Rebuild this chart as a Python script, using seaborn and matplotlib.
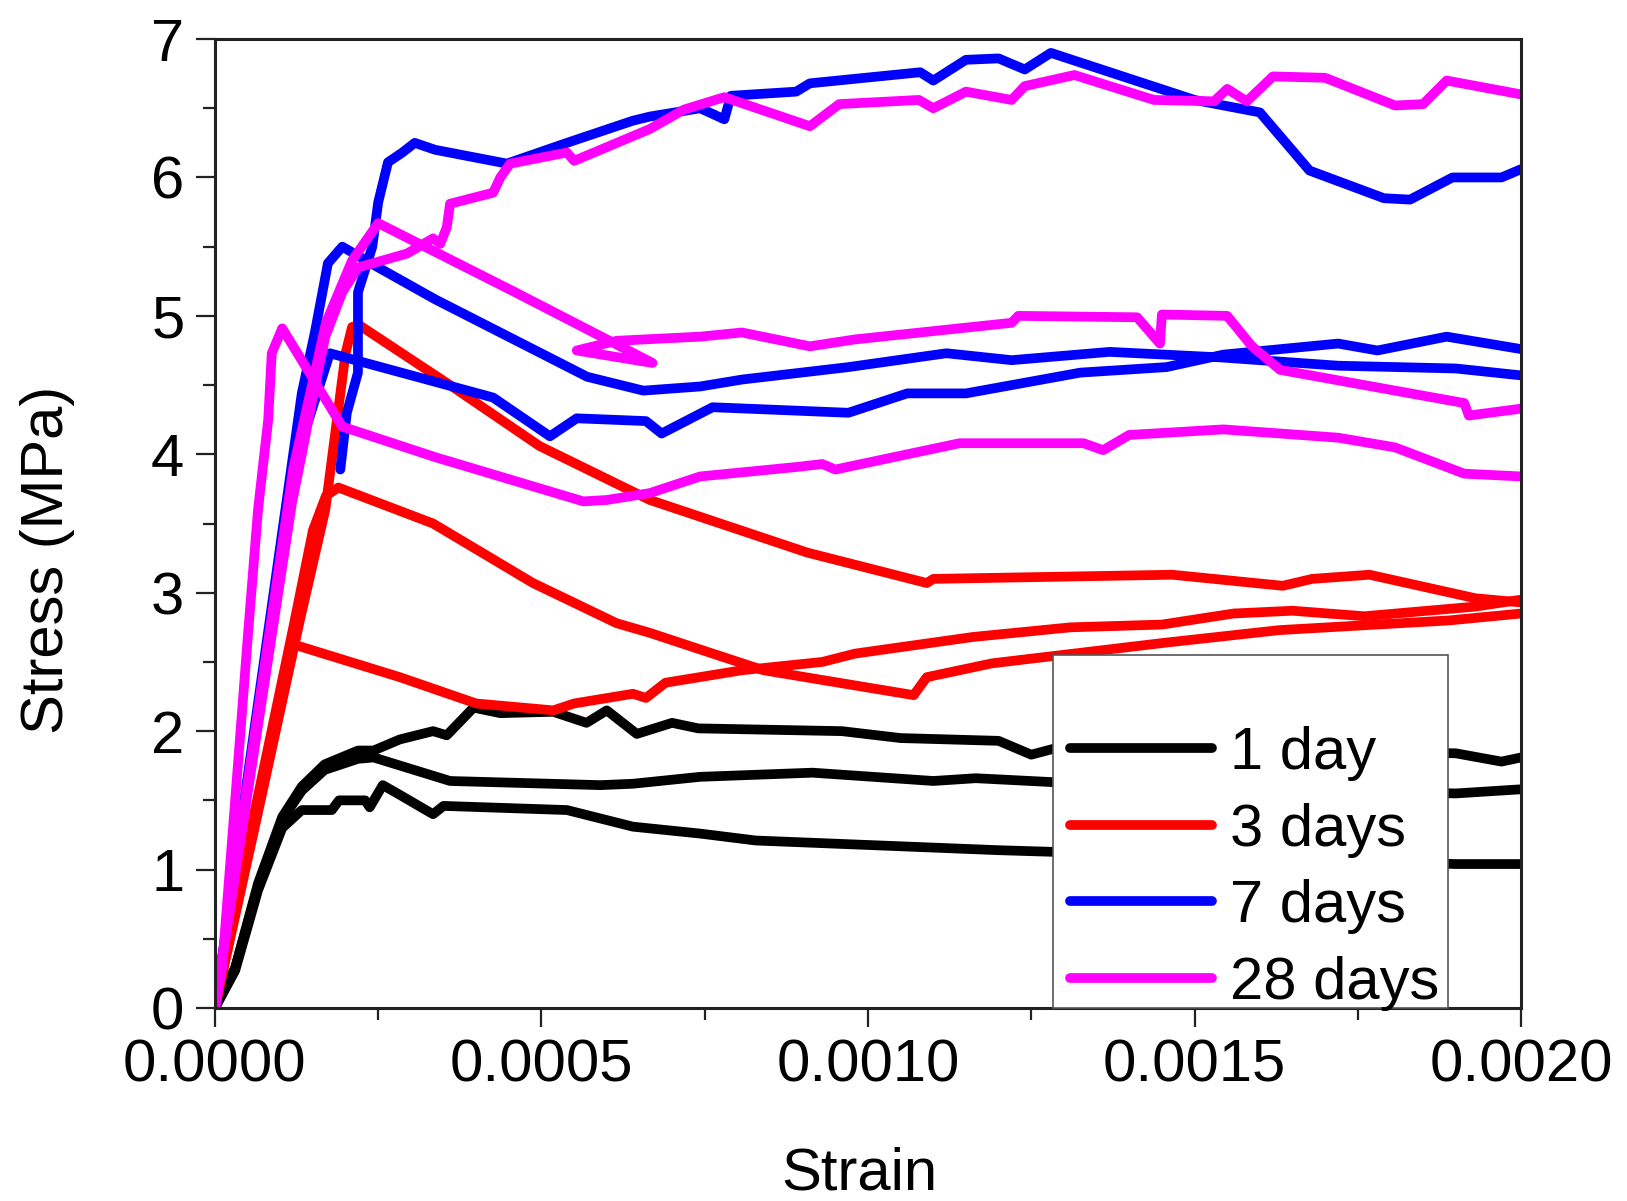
import numpy as np
import pandas as pd
import matplotlib
matplotlib.use("Agg")
import matplotlib.pyplot as plt
from matplotlib.patches import Rectangle
from matplotlib.lines import Line2D
import seaborn as sns

# ---------------- data ----------------
ages = ["1 day", "3 days", "7 days", "28 days"]
colors = ["#000000", "#ff0000", "#0000ff", "#ff00ff"]

# 1 day
d1_a_x = [0, 0.000031, 0.000066, 0.000103, 0.000133, 0.000168, 0.000219, 0.000243, 0.000283, 0.000334,
          0.000355, 0.000396, 0.000437, 0.000518, 0.000569, 0.0006, 0.000646, 0.0007, 0.00074, 0.00096,
          0.00105, 0.0012, 0.00125, 0.00129, 0.0019, 0.00197, 0.002]
d1_a_y = [0, 0.29, 0.9, 1.38, 1.6, 1.76, 1.86, 1.86, 1.94, 2.0,
          1.97, 2.17, 2.13, 2.14, 2.06, 2.15, 1.98, 2.06, 2.02, 2.0,
          1.95, 1.93, 1.83, 1.88, 1.84, 1.78, 1.81]
d1_b_x = [0, 0.000031, 0.000066, 0.000103, 0.000133, 0.000168, 0.000219, 0.000243, 0.00036, 0.00059,
          0.00064, 0.000743, 0.000915, 0.0011, 0.001165, 0.00129, 0.0019, 0.002]
d1_b_y = [0, 0.29, 0.88, 1.36, 1.57, 1.72, 1.8, 1.81, 1.64, 1.61,
          1.62, 1.67, 1.70, 1.64, 1.66, 1.63, 1.55, 1.58]
d1_c_x = [0, 0.000031, 0.000066, 0.000103, 0.000133, 0.000179, 0.00019, 0.00023, 0.000237, 0.000257,
          0.000283, 0.000334, 0.00035, 0.000539, 0.00064, 0.000743, 0.000828, 0.0012, 0.0019, 0.002]
d1_c_y = [0, 0.27, 0.85, 1.3, 1.43, 1.43, 1.5, 1.5, 1.45, 1.61,
          1.54, 1.40, 1.46, 1.43, 1.31, 1.26, 1.21, 1.14, 1.04, 1.04]

# 3 days
d3_a_x = [0, 0.00007, 0.00013, 0.000169, 0.00018, 0.0002, 0.00021, 0.000222, 0.00036, 0.000497,
          0.000666, 0.000907, 0.00109, 0.0011, 0.001466, 0.001635, 0.00168, 0.001768, 0.00193, 0.002]
d3_a_y = [0, 1.5, 2.8, 3.6, 4.0, 4.73, 4.92, 4.93, 4.5, 4.06,
          3.67, 3.29, 3.07, 3.1, 3.13, 3.05, 3.1, 3.13, 2.96, 2.93]
d3_b_x = [0, 0.00006, 0.00012, 0.00015, 0.00017, 0.000189, 0.000334, 0.000487, 0.000615, 0.000666,
          0.000743, 0.00084, 0.00107, 0.00109, 0.00119, 0.001457, 0.00163, 0.00189, 0.002]
d3_b_y = [0, 1.4, 2.75, 3.45, 3.7, 3.76, 3.5, 3.07, 2.78, 2.71,
          2.59, 2.44, 2.26, 2.39, 2.49, 2.64, 2.73, 2.8, 2.85]
d3_c_x = [0, 0.0000665, 0.000118, 0.000283, 0.0004, 0.000518, 0.00055, 0.00064, 0.00066, 0.00069,
          0.000807, 0.00093, 0.00098, 0.00116, 0.00131, 0.00145, 0.00156, 0.00165, 0.00176, 0.00193, 0.002]
d3_c_y = [0, 1.5, 2.63, 2.39, 2.2, 2.15, 2.2, 2.27, 2.24, 2.35,
          2.44, 2.5, 2.56, 2.68, 2.75, 2.77, 2.85, 2.87, 2.83, 2.9, 2.95]

# 7 days
d7_a_x = [0.000192, 0.000202, 0.000219, 0.000219, 0.000241, 0.00025, 0.000265, 0.000287, 0.000306, 0.000337,
          0.000447, 0.000539, 0.00064, 0.000666, 0.000743, 0.00078, 0.00079, 0.00089, 0.000911, 0.00108,
          0.0011, 0.00115, 0.0012, 0.00124, 0.00128, 0.0015, 0.0016, 0.001676, 0.00179, 0.00183,
          0.001895, 0.00197, 0.002]
d7_a_y = [3.89, 4.30, 4.59, 5.17, 5.50, 5.82, 6.11, 6.18, 6.25, 6.20,
          6.1, 6.25, 6.41, 6.44, 6.5, 6.42, 6.59, 6.62, 6.68, 6.76,
          6.7, 6.85, 6.86, 6.78, 6.9, 6.56, 6.47, 6.05, 5.85, 5.84,
          6.0, 6.0, 6.06]
d7_b_x = [0, 0.00011, 0.000133, 0.000153, 0.000173, 0.000195, 0.00025, 0.000337, 0.00057, 0.000656,
          0.000743, 0.000807, 0.00097, 0.00112, 0.00122, 0.00137, 0.00154, 0.00172, 0.0019, 0.002]
d7_b_y = [0, 3.67, 4.44, 4.88, 5.38, 5.5, 5.35, 5.12, 4.56, 4.46,
          4.49, 4.54, 4.63, 4.73, 4.68, 4.74, 4.7, 4.64, 4.62, 4.57]
d7_c_x = [0, 0.00005, 0.00012, 0.000176, 0.000426, 0.000513, 0.000554, 0.00066, 0.000684, 0.000762,
          0.00097, 0.00106, 0.00115, 0.001325, 0.001457, 0.001544, 0.00172, 0.00178, 0.001886, 0.002]
d7_c_y = [0, 1.6, 3.9, 4.73, 4.41, 4.13, 4.26, 4.24, 4.15, 4.34,
          4.3, 4.44, 4.44, 4.59, 4.63, 4.72, 4.8, 4.75, 4.85, 4.76]

# 28 days
d28_a_x = [0, 0.000011, 0.000031, 0.0000508, 0.000066, 0.0000816, 0.000087, 0.000103, 0.000195, 0.000337,
           0.000564, 0.0006, 0.000666, 0.000743, 0.000894, 0.00093, 0.00095, 0.00114, 0.00133, 0.00136,
           0.0014, 0.001544, 0.00172, 0.001807, 0.001913, 0.002]
d28_a_y = [0, 0.29, 1.5, 2.71, 3.6, 4.25, 4.73, 4.91, 4.2, 3.98,
           3.66, 3.67, 3.72, 3.84, 3.91, 3.93, 3.89, 4.08, 4.08, 4.03,
           4.14, 4.18, 4.12, 4.05, 3.86, 3.84]
d28_b_x = [0, 0.00012, 0.00017, 0.00021, 0.00025, 0.00046, 0.00067, 0.000554, 0.000615, 0.000743,
           0.000807, 0.000911, 0.00098, 0.00122, 0.00123, 0.001412, 0.001447, 0.00145, 0.00155, 0.001588,
           0.001631, 0.001807, 0.001913, 0.00192, 0.002]
d28_b_y = [0, 3.9, 4.95, 5.4, 5.67, 5.17, 4.66, 4.75, 4.82, 4.85,
           4.88, 4.78, 4.83, 4.95, 5.0, 4.99, 4.8, 5.01, 5.0, 4.78,
           4.61, 4.46, 4.37, 4.28, 4.33]
d28_c_x = [0, 0.000118, 0.000133, 0.000153, 0.000169, 0.000195, 0.000219, 0.000294, 0.000334, 0.000345,
           0.000355, 0.00036, 0.000426, 0.000437, 0.000452, 0.000539, 0.00055, 0.000666, 0.000718, 0.00078,
           0.000911, 0.000956, 0.001078, 0.0011, 0.00115, 0.00122, 0.00124, 0.001316, 0.001438, 0.00153,
           0.00155, 0.00158, 0.00162, 0.0017, 0.001807, 0.00185, 0.001886, 0.002]
d28_c_y = [0, 3.65, 4.0, 4.49, 4.85, 5.17, 5.35, 5.45, 5.56, 5.52,
           5.64, 5.81, 5.89, 6.0, 6.1, 6.18, 6.12, 6.35, 6.49, 6.58,
           6.37, 6.53, 6.56, 6.5, 6.62, 6.56, 6.66, 6.74, 6.56, 6.55,
           6.64, 6.55, 6.73, 6.72, 6.52, 6.53, 6.7, 6.6]

curves = [
    ("1 day", "1a", d1_a_x, d1_a_y), ("1 day", "1b", d1_b_x, d1_b_y), ("1 day", "1c", d1_c_x, d1_c_y),
    ("3 days", "3a", d3_a_x, d3_a_y), ("3 days", "3b", d3_b_x, d3_b_y), ("3 days", "3c", d3_c_x, d3_c_y),
    ("7 days", "7a", d7_a_x, d7_a_y), ("7 days", "7b", d7_b_x, d7_b_y), ("7 days", "7c", d7_c_x, d7_c_y),
    ("28 days", "28a", d28_a_x, d28_a_y), ("28 days", "28b", d28_b_x, d28_b_y), ("28 days", "28c", d28_c_x, d28_c_y),
]

rows = []
for age, spec, xs, ys in curves:
    for i, (x, y) in enumerate(zip(xs, ys)):
        rows.append({"age": age, "specimen": spec, "order": i, "strain": x, "stress": y})
df = pd.DataFrame(rows)

# ---------------- plot ----------------
sns.set_style("ticks")
plt.rcParams["font.family"] = ["Liberation Sans", "DejaVu Sans"]
plt.rcParams["text.color"] = "black"
plt.rcParams["axes.labelcolor"] = "black"
plt.rcParams["xtick.color"] = "black"
plt.rcParams["ytick.color"] = "black"

fig = plt.figure(figsize=(16.27, 12.01), dpi=100)
ax = fig.add_axes([0.1321, 0.1607, 0.8028, 0.8068])

LW = 7.0
palette = dict(zip(ages, colors))
sns.lineplot(data=df, x="strain", y="stress", hue="age", units="specimen",
             estimator=None, sort=False, palette=palette, hue_order=ages,
             linewidth=LW, legend=False, ax=ax,
             solid_joinstyle="round", solid_capstyle="round")

ax.set_xlim(0, 0.002)
ax.set_ylim(0, 7)
ax.set_xticks([0, 0.0005, 0.001, 0.0015, 0.002])
ax.set_xticklabels(["0.0000", "0.0005", "0.0010", "0.0015", "0.0020"])
ax.set_xticks(np.arange(0.00025, 0.002, 0.0005), minor=True)
ax.set_yticks(range(0, 8))
ax.set_yticks(np.arange(0.5, 7, 1.0), minor=True)

for s in ax.spines.values():
    s.set_visible(True)
    s.set_linewidth(2.2)
    s.set_color("#222222")

ax.tick_params(axis="both", which="major", direction="out", length=14, width=1.6,
               labelsize=43, colors="#222222", labelcolor="black")
ax.tick_params(axis="both", which="minor", direction="out", length=8.5, width=1.6, colors="#222222")
ax.tick_params(axis="x", which="major", pad=8)
ax.tick_params(axis="y", which="major", pad=8)
ax.tick_params(top=False, right=False, which="both")

ax.set_xlabel("Strain", fontsize=43, color="black")
ax.set_ylabel("Stress (MPa)", fontsize=43, color="black")
ax.xaxis.label.set_va("center")
ax.xaxis.set_label_coords(0.493, -0.171)
ax.yaxis.label.set_va("center")
ax.yaxis.set_label_coords(-0.128, 0.462)

# legend box
rect = Rectangle((0.642, 0.0), 0.302, 0.364, transform=ax.transAxes, facecolor="white",
                 edgecolor="#555555", linewidth=1.2, zorder=5, clip_on=False)
ax.add_patch(rect)
handles = [Line2D([], [], color=c, linewidth=LW) for c in colors]
leg = ax.legend(handles, ages, loc="upper left", bbox_to_anchor=(0.6547, 0.291),
                frameon=False, fontsize=43, handlelength=2.38, handletextpad=0.3,
                labelspacing=0.36, borderpad=0, borderaxespad=0, labelcolor="black")
leg.set_zorder(6)

fig.savefig("out.png", dpi=100, facecolor="white")
